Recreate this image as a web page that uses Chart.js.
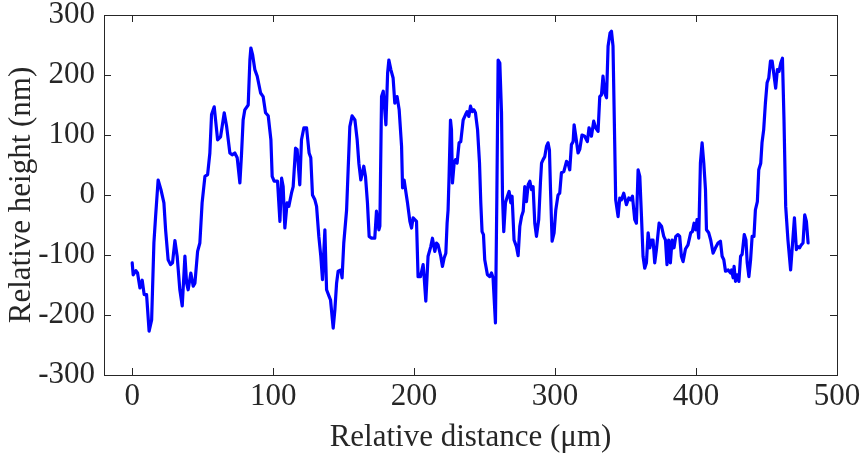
<!DOCTYPE html>
<html>
<head>
<meta charset="utf-8">
<script src="https://cdn.jsdelivr.net/npm/chart.js@4.4.1/dist/chart.umd.min.js"></script>
<style>
  html, body { margin: 0; padding: 0; background: #fff; }
  #wrap { width: 862px; height: 458px; }
</style>
</head>
<body>
<div id="wrap"><canvas id="profileChart" width="862" height="458"></canvas></div>
<script>
// surface profile
const distance = [
  0, 0.7, 2.6, 3.8, 5.5, 7.1, 8.5, 10.2, 12, 13.8, 15.4, 16.6, 18.4, 20.4, 22.5, 23.7, 25.5, 27.2, 28.6, 30.3,
  31.9, 33.8, 35.5, 37.4, 38.6, 39.7, 41.6, 43.3, 44.5, 46.4, 48, 49.6, 51.6, 53.5, 55.1, 56.3, 58.2, 60.6, 62.7, 65.3,
  67, 69.3, 70.9, 72.8, 74.5, 76.4, 77.6, 78.7, 79.9, 82.3, 83.5, 84.2, 85.4, 87, 88.7, 91.1, 92.9, 94.6, 96.5, 98.4,
  99.3, 100.7, 103.1, 104.8, 106, 107.1, 108.3, 109.9, 111.1, 113, 114.2, 115.9, 117, 118.9, 120.1, 121.8, 123.7, 125.5, 126.7, 127.9,
  129.6, 130.8, 132.4, 133.8, 135, 136.7, 137.9, 139.7, 140.7, 142.6, 143.8, 145, 146.1, 148, 148.9, 150.1, 152.1, 153.2, 154.4, 156,
  158, 159.6, 160.8, 162.2, 164.3, 165.5, 166.9, 168.1, 169.8, 172.1, 173.3, 175, 175.7, 176.9, 178.1, 180, 181.2, 182.1, 183.5, 185.1,
  186.3, 187.9, 189.4, 191.1, 191.8, 192.9, 194.6, 195.3, 197, 198.2, 199.3, 201.7, 202.8, 204.5, 206.4, 207.1, 208.3, 209.9, 211.8, 213,
  214.7, 215.9, 217, 218.9, 220.1, 221.3, 222.5, 223.4, 224.1, 224.8, 225.8, 226.5, 227.2, 228.4, 229.4, 230.5, 231.9, 233.1, 234.8, 236.5,
  237.6, 238.8, 240, 241.2, 242.4, 243.5, 245, 246.4, 247.3, 248.2, 249.2, 250.1, 252, 253.7, 254.9, 256, 257.7, 258.7, 259.6, 260.8,
  262, 262.7, 263.6, 264.8, 266.2, 267.4, 268.6, 269.5, 270.9, 272.6, 273.8, 275, 276.2, 277.4, 278.5, 279.7, 280.9, 282.1, 283.3, 284.4,
  285.6, 286.8, 288.4, 289.6, 290.4, 291.5, 292.7, 293.9, 295, 296, 296.7, 297.9, 299.3, 300.5, 302.1, 303.3, 304.5, 306.2, 308.1, 309.2,
  310.4, 311.6, 312.8, 313.5, 314.7, 316.3, 317.5, 319.1, 321, 322.9, 324.1, 325.8, 327.4, 328.8, 330.5, 331.7, 332.9, 334, 335.2, 336.5,
  337.6, 339, 340, 341.1, 342.3, 343, 344.7, 345.9, 347.1, 348.7, 350.6, 352.3, 353.7, 354.9, 356.5, 357.7, 358.9, 360.1, 361.3, 362.4,
  363.6, 364.8, 366, 367.2, 368.4, 369.5, 370.7, 371.9, 373.8, 375.5, 377.1, 378.3, 379.4, 380.6, 381.8, 383, 384.4, 385.6, 387.2, 388.4,
  389.6, 390.8, 392.5, 394.3, 396.2, 397.4, 398.6, 399.8, 400.7, 401.9, 403.1, 404.3, 405.5, 406.7, 407.4, 409, 410.4, 412.1, 413.8, 415.6,
  417.3, 418.5, 419.7, 420.9, 422.8, 424.5, 425.2, 426.3, 427, 428, 429.1, 430.4, 431.6, 432.7, 434.2, 435.4, 436.3, 437.5, 438.7, 439.8,
  441.1, 442.1, 443.5, 444.5, 445.9, 446.8, 448, 449.2, 450.4, 451.6, 452.8, 454, 455.4, 456.5, 457.7, 458.9, 460.1, 461.3, 462.4, 463.6,
  465.2, 467.1, 468.3, 469.8, 471.2, 472.3, 473.5, 474.7, 475.9, 477.1, 478.3, 479.5
];
const height = [
  -113, -133, -126, -130, -155, -142, -166, -166, -227, -208, -80, -36, 25, 9, -13, -58, -108, -116, -113, -76,
  -102, -158, -185, -102, -147, -158, -130, -152, -147, -94, -80, -13, 31, 34, 70, 134, 147, 92, 97, 137,
  114, 70, 67, 70, 62, 20, 70, 125, 142, 150, 225, 245, 234, 209, 198, 170, 164, 137, 132, 92,
  31, 23, 23, -44, 28, 14, -55, -13, -19, 3, 14, 78, 76, 17, 92, 112, 112, 70, 62, 0,
  -8, -19, -69, -102, -141, -58, -158, -169, -175, -222, -191, -147, -127, -125, -138, -80, -25, 42, 114, 132,
  125, 92, 53, 25, 48, 31, -13, -69, -72, -72, -27, -58, -52, 164, 173, 117, 203, 225, 209, 195,
  153, 164, 142, 81, 12, 25, -2, -13, -44, -55, -38, -44, -136, -136, -116, -136, -177, -102, -86, -72,
  -94, -80, -83, -102, -119, -105, -97, -47, -25, 31, 125, 109, 20, 53, 59, 53, 87, 89, 125, 134,
  139, 131, 148, 139, 142, 137, 109, 53, -13, -61, -66, -108, -133, -136, -130, -138, -213, -2, 225, 220,
  137, -2, -61, -13, -2, 6, -13, -2, -75, -86, -101, -52, -36, -27, 14, -11, 17, 23, 9, 14,
  -47, -69, -41, 20, 53, 59, 64, 81, 87, 75, 14, -77, -63, -25, 0, 3, 37, 39, 56, 53,
  42, 84, 89, 117, 98, 70, 76, 100, 98, 89, 112, 98, 123, 112, 106, 164, 167, 198, 170, 162,
  248, 270, 273, 248, 87, -8, -36, -5, -8, 3, -16, -5, -8, -2, -41, -47, 42, 31, -36, -102,
  -122, -113, -63, -88, -75, -75, -113, -91, -47, -52, -69, -75, -116, -75, -113, -75, -88, -69, -66, -69,
  -102, -111, -90, -83, -63, -61, -47, -58, -41, -72, 53, 87, 53, 9, -58, -63, -75, -97, -88, -80,
  -77, -102, -108, -127, -125, -130, -125, -138, -119, -144, -133, -144, -102, -99, -66, -75, -113, -136, -108, -69,
  -69, -25, -11, 42, 53, 87, 109, 153, 187, 195, 223, 223, 198, 178, 209, 206, 220, 228, 125, -19,
  -75, -125, -86, -38, -91, -86, -88, -83, -80, -33, -44, -80
];
const xTicks = [0, 100, 200, 300, 400, 500];
const yTicks = [-300, -200, -100, 0, 100, 200, 300];

const axisColor = '#262626';
const serif = '"Liberation Serif", "Times New Roman", serif';

// MATLAB-like box with inward ticks on all four sides
const boxPlugin = {
  id: 'boxTicks',
  afterDraw(chart) {
    const { ctx, chartArea: a, scales } = chart;
    const len = 7;
    ctx.save();
    ctx.strokeStyle = axisColor;
    ctx.lineWidth = 1;
    ctx.beginPath();
    xTicks.forEach(v => {
      const px = Math.round(scales.x.getPixelForValue(v)) + 0.5;
      ctx.moveTo(px, a.bottom); ctx.lineTo(px, a.bottom - len);
      ctx.moveTo(px, a.top); ctx.lineTo(px, a.top + len);
    });
    yTicks.forEach(v => {
      const py = Math.round(scales.y.getPixelForValue(v)) + 0.5;
      ctx.moveTo(a.left, py); ctx.lineTo(a.left + len, py);
      ctx.moveTo(a.right, py); ctx.lineTo(a.right - len, py);
    });
    ctx.stroke();
    ctx.strokeRect(Math.round(a.left) + 0.5, Math.round(a.top) + 0.5,
      Math.round(a.right - a.left), Math.round(a.bottom - a.top));
    ctx.restore();
  }
};

new Chart(document.getElementById('profileChart'), {
  type: 'line',
  data: {
    datasets: [{
      data: distance.map((d, i) => ({ x: d, y: height[i] })),
      borderColor: 'rgb(0, 0, 255)',
      borderWidth: 3.2,
      borderJoinStyle: 'round',
      borderCapStyle: 'round',
      pointRadius: 0,
      tension: 0,
      fill: false
    }]
  },
  options: {
    responsive: false,
    animation: false,
    layout: { padding: { left: 0, right: 25, top: 15, bottom: 0 } },
    plugins: {
      legend: { display: false },
      tooltip: { enabled: false }
    },
    scales: {
      x: {
        type: 'linear',
        min: -20,
        max: 500,
        afterBuildTicks: s => { s.ticks = xTicks.map(v => ({ value: v })); },
        afterFit: s => { s.height = 83; s.paddingLeft = 0; s.paddingRight = 0; },
        grid: { display: false, drawTicks: false },
        border: { display: false },
        ticks: { color: axisColor, padding: 3, maxRotation: 0, font: { family: serif, size: 31 } },
        title: {
          display: true,
          text: 'Relative distance (μm)',
          color: axisColor,
          padding: { top: 0, bottom: 2 },
          font: { family: serif, size: 31 }
        }
      },
      y: {
        min: -300,
        max: 300,
        afterBuildTicks: s => { s.ticks = yTicks.map(v => ({ value: v })); },
        afterFit: s => { s.width = 104; s.paddingTop = 0; s.paddingBottom = 0; },
        grid: { display: false, drawTicks: false },
        border: { display: false },
        ticks: { color: axisColor, padding: 9, font: { family: serif, size: 31 } },
        title: {
          display: true,
          text: 'Relative height (nm)',
          color: axisColor,
          padding: { top: 3, bottom: 0 },
          font: { family: serif, size: 31 }
        }
      }
    }
  },
  plugins: [boxPlugin]
});
</script>
</body>
</html>
